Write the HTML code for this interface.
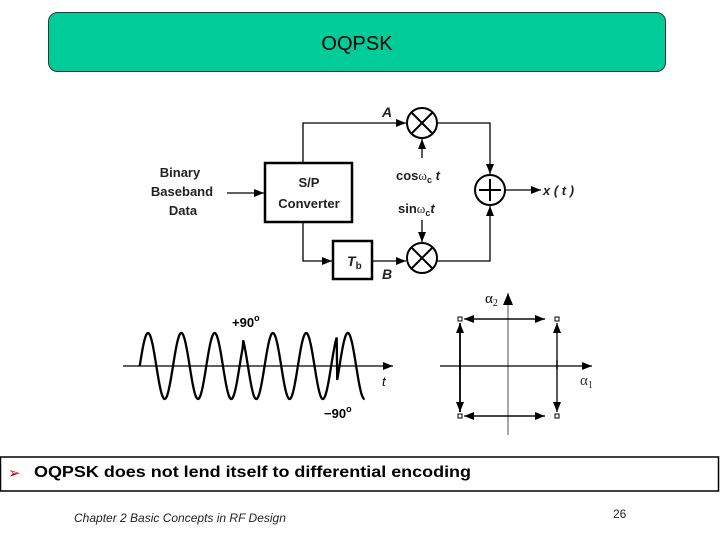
<!DOCTYPE html>
<html><head><meta charset="utf-8"><style>
html,body{margin:0;padding:0;background:#fff;}
svg{display:block;font-family:"Liberation Sans",Arial,sans-serif;}
</style></head><body>
<svg width="720" height="540" viewBox="0 0 720 540" xmlns="http://www.w3.org/2000/svg">
<defs>
<marker id="ah" markerWidth="10" markerHeight="8" refX="10" refY="4" orient="auto" markerUnits="userSpaceOnUse"><path d="M0,0 L10,4 L0,8 Z" fill="#000"/></marker>
</defs>
<rect x="48.5" y="12.5" width="617" height="59" rx="9" fill="#00cc99" stroke="#333" stroke-width="1"/>
<text x="357" y="50" font-size="20" text-anchor="middle">OQPSK</text>

<!-- block diagram -->
<g fill="none" stroke="#000" stroke-width="1.3">
<rect x="265" y="163" width="87" height="59" stroke-width="2.5"/>
<rect x="333" y="241" width="39" height="38" stroke-width="2.5"/>
<circle cx="422" cy="123" r="15" stroke-width="2"/>
<circle cx="422" cy="258" r="15" stroke-width="2"/>
<circle cx="490" cy="190" r="15" stroke-width="2"/>
<path d="M411,112 L433,134 M433,112 L411,134 M411,247 L433,269 M433,247 L411,269 M479,190 L501,190 M490,179 L490,201" stroke-width="2"/>
<path d="M227,193 L264,193" marker-end="url(#ah)"/>
<path d="M303,163 L303,123 L406,123" marker-end="url(#ah)"/>
<path d="M303,222 L303,261 L332,261" marker-end="url(#ah)"/>
<path d="M372,261 L406,261" marker-end="url(#ah)"/>
<path d="M422,158 L422,139" marker-end="url(#ah)"/>
<path d="M422,220 L422,242" marker-end="url(#ah)"/>
<path d="M437,123 L490,123 L490,174" marker-end="url(#ah)"/>
<path d="M437,261 L490,261 L490,206" marker-end="url(#ah)"/>
<path d="M505,190 L541,190" marker-end="url(#ah)"/>
</g>
<g font-size="13" font-weight="bold" fill="#222">
<text x="180" y="177" text-anchor="middle">Binary</text>
<text x="182" y="196" text-anchor="middle">Baseband</text>
<text x="183" y="215" text-anchor="middle">Data</text>
<text x="309" y="187" text-anchor="middle">S/P</text>
<text x="309" y="208" text-anchor="middle">Converter</text>
<text x="382" y="117" font-style="italic" font-size="14">A</text>
<text x="382" y="279" font-style="italic" font-size="14">B</text>
<text x="347" y="266" font-style="italic" font-size="14">T<tspan font-size="10" font-style="normal" dy="3">b</tspan></text>
<text x="396" y="180">cos<tspan font-weight="normal" font-family="Liberation Serif">ω</tspan><tspan font-size="9" dy="3">c</tspan><tspan dy="-3" font-style="italic"> t</tspan></text>
<text x="398" y="213">sin<tspan font-weight="normal" font-family="Liberation Serif">ω</tspan><tspan font-size="9" dy="3">c</tspan><tspan dy="-3" font-style="italic">t</tspan></text>
<text x="543" y="195" font-style="italic">x ( t )</text>
</g>

<!-- waveform -->
<path d="M123,366 L393,366" stroke="#000" stroke-width="1.3" marker-end="url(#ah)"/>
<polyline id="wave" fill="none" stroke="#000" stroke-width="2.3" points=""/>
<text x="382" y="386" font-size="13" font-style="italic">t</text>
<text x="232" y="327" font-size="13" font-weight="bold">+90<tspan font-size="9" dy="-6">o</tspan></text>
<text x="324" y="418" font-size="13" font-weight="bold">−90<tspan font-size="9" dy="-6">o</tspan></text>

<!-- constellation -->
<path d="M508,435 L508,293" stroke="#888" stroke-width="1.5"/>
<path d="M508,305 L503,293 L513,293 Z" fill="#000" transform="rotate(180 508 299)"/>
<path d="M440,366 L592,366" stroke="#000" stroke-width="1.3" marker-end="url(#ah)"/>
<g stroke="#000" stroke-width="1.3" fill="none">
<path d="M472,319 L545,319" marker-end="url(#ah)"/>
<path d="M545,319 L464,319" marker-end="url(#ah)"/>
<path d="M472,416 L545,416" marker-end="url(#ah)"/>
<path d="M545,416 L464,416" marker-end="url(#ah)"/>
<path d="M460,370 L460,323" marker-end="url(#ah)" stroke-width="1.8"/>
<path d="M460,360 L460,412" marker-end="url(#ah)" stroke-width="1.8"/>
<path d="M557,370 L557,323" marker-end="url(#ah)"/>
<path d="M557,360 L557,412" marker-end="url(#ah)"/>
</g>
<g fill="#fff" stroke="#000" stroke-width="1">
<rect x="458" y="317" width="4" height="4"/><rect x="555" y="317" width="4" height="4"/>
<rect x="458" y="414" width="4" height="4"/><rect x="555" y="414" width="4" height="4"/>
</g>
<text x="485" y="303" font-size="15" font-family="Liberation Serif">α<tspan font-size="10" dy="3">2</tspan></text>
<text x="580" y="385" font-size="15" font-family="Liberation Serif" fill="#333">α<tspan font-size="10" dy="3">1</tspan></text>

<!-- bottom -->
<rect x="0.5" y="457" width="718" height="34" fill="#fff" stroke="#000" stroke-width="1.5"/>
<text x="8" y="478" font-size="15" fill="#c00">➢</text>
<text x="34" y="477" font-size="16" font-weight="bold" textLength="437" lengthAdjust="spacingAndGlyphs">OQPSK does not lend itself to differential encoding</text>
<text x="74" y="522" font-size="12" font-style="italic" fill="#222">Chapter 2 Basic Concepts in RF Design</text>
<text x="613" y="518" font-size="12" fill="#222">26</text>
</svg>
<script>
(function(){
var pts=[],T=33.3,x0=139.7,A=33,y0=366;
for(var x=139.7;x<=365;x+=0.5){
 var ph=2*Math.PI*(x-x0)/T;
 if(x>=243) ph+=Math.PI/2;
 if(x>=337) ph-=Math.PI/2;
 pts.push(x.toFixed(1)+","+(y0-A*Math.sin(ph)).toFixed(1));
}
document.getElementById("wave").setAttribute("points",pts.join(" "));
})();
</script>
</body></html>
